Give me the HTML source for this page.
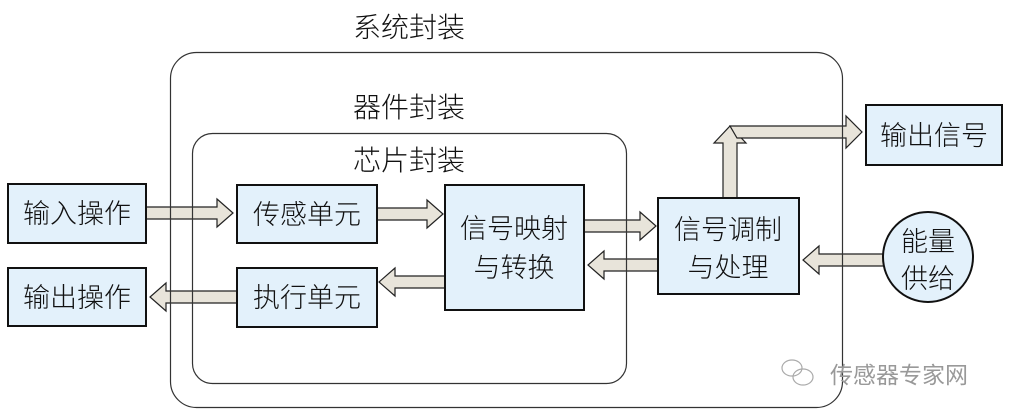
<!DOCTYPE html>
<html><head><meta charset="utf-8"><style>
html,body{margin:0;padding:0;background:#fff;}
svg{display:block;}
text{font-family:"Liberation Sans","Noto Sans CJK SC",sans-serif;fill:#111;}
</style></head><body>
<svg width="1012" height="417" viewBox="0 0 1012 417" xmlns="http://www.w3.org/2000/svg">
<g fill="#e8e4da" stroke="#222" stroke-width="1.2">
<polygon points="146,207 217,207 217,199 233,213 217,227 217,219 146,219"/>
<polygon points="377,208 427,208 427,200 443,214 427,228 427,220 377,220"/>
<polygon points="584,220 640,220 640,212 656,226 640,240 640,232 584,232"/>
<polygon points="445,276 395,276 395,268 379,282 395,296 395,288 445,288"/>
<polygon points="237,291 166,291 166,283 150,297 166,311 166,303 237,303"/>
<polygon points="658,259 604,259 604,251 588,265 604,279 604,271 658,271"/>
<polygon points="884,254 819,254 819,246 803,260 819,274 819,266 884,266"/>
<polygon points="723,198 723,143 714,143 730,126 746,143 737,143 737,198"/>
<polygon points="730,126 846,126 846,116 862,132 846,148 846,138 737,138"/>
</g>
<g fill="none" stroke="#333" stroke-width="1.2">
<rect x="170.5" y="52.5" width="672" height="355" rx="26"/>
<rect x="192.5" y="133.5" width="434" height="250" rx="20"/>
</g>
<g fill="#e3f1fb" stroke="#111" stroke-width="2">
<rect x="8" y="184" width="138" height="59"/>
<rect x="8" y="268" width="138" height="58"/>
<rect x="237" y="185" width="140" height="58"/>
<rect x="237" y="268" width="140" height="59"/>
<rect x="445" y="185" width="139" height="125"/>
<rect x="658" y="198" width="141" height="96"/>
<rect x="866" y="105" width="136" height="60"/>
<circle cx="928" cy="257" r="45"/>
</g>
<g font-size="28" font-weight="300" text-anchor="middle">
<text x="409" y="37">系统封装</text>
<text x="409" y="117">器件封装</text>
<text x="409" y="170">芯片封装</text>
</g>
<g font-size="27" font-weight="300" text-anchor="middle">
<text x="77" y="223">输入操作</text>
<text x="77" y="307">输出操作</text>
<text x="307" y="224">传感单元</text>
<text x="307" y="307">执行单元</text>
<text x="514" y="238">信号映射</text>
<text x="514" y="277">与转换</text>
<text x="728" y="239">信号调制</text>
<text x="728" y="277">与处理</text>
<text x="934" y="145">输出信号</text>
<text x="928" y="251">能量</text>
<text x="928" y="288">供给</text>
</g>
<g fill="none" stroke="#aaa" stroke-width="1.2">
<ellipse cx="792" cy="368" rx="10" ry="8"/>
<ellipse cx="803" cy="377" rx="10" ry="8"/>
</g>
<text x="830" y="383" font-size="23" style="fill:#999">传感器专家网</text>
</svg>
</body></html>
